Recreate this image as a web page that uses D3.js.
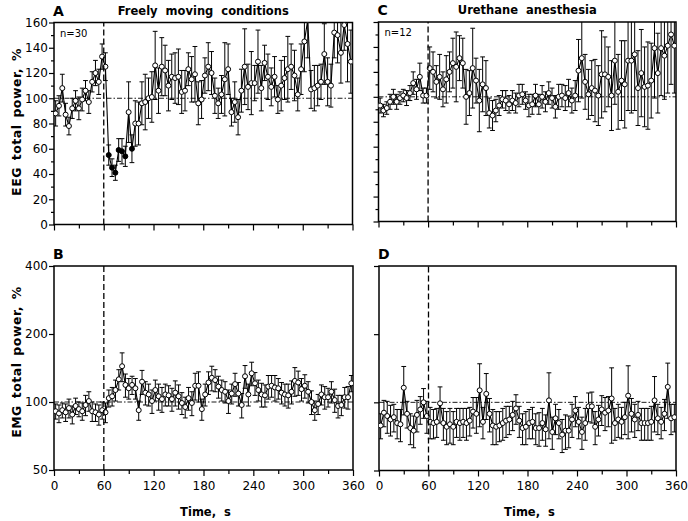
<!DOCTYPE html>
<html><head><meta charset="utf-8">
<script src="https://cdn.jsdelivr.net/npm/d3@7"></script>
<style>
body{margin:0;background:#fff}
svg{display:block}
text{font-family:"DejaVu Sans",Arial,sans-serif;fill:#000}
</style>
</head><body>
<svg id="c" width="688" height="521"></svg>
<script>
// ---- data ----
const binStart = 2, binWidth = 4, binCount = 90;   // 4-s bins, centres 2..358 s
const xTicks = [0, 60, 120, 180, 240, 300, 360];
const xMinorTicks = [30, 90, 150, 210, 270, 330];
const eegTicks = [0, 20, 40, 60, 80, 100, 120, 140, 160];
const eegMinorTicks = [10, 30, 50, 70, 90, 110, 130, 150];
const emgTicks = [50, 100, 200, 400];
const stimTime = 60;
const baseline = 100;

// A: EEG, freely moving (n=30)
const eegFreely = [88,94,108,87,78,92,98,92,99,106, 97,113,120,113,133,125,55,45,41,59,
  58,54,89,60,80,80,96,97,100,101, 126,106,125,122,110,117,116,117,105,106,
  123,115,119,96,99,118,125,120,102,96, 103,115,123,89,97,85,106,125,109,112,
  112,129,108,128,117,109,117,99,110,116, 123,125,118,103,123,145,162,107,108,110,
  113,135,113,110,152,150,136,158,143,129];
const eegFreelyErr = [10,8,11,9,7,8,8,9,9,8, 9,8,10,10,10,11,8,7,6,9,
  10,8,24,11,18,17,17,22,16,20, 27,18,23,20,20,18,20,22,17,16,
  13,18,22,17,15,14,19,17,14,12, 15,29,20,11,16,14,17,30,18,25,
  14,25,18,14,18,15,16,11,20,17, 26,18,20,13,20,24,30,15,18,16,
  14,24,19,17,20,22,24,20,30,25];
const freelySignificant = [16,17,18,19,20,21,23];

// C: EEG, urethane anesthesia (n=12)
const eegUrethane = [93,89,91,96,100,96,99,101,99,103, 111,106,116,101,101,123,120,112,116,106,
  114,120,127,124,131,127,100,103,123,113, 97,110,107,87,85,89,93,98,97,94,
  97,95,101,102,97,93,94,101,94,100, 96,103,99,92,100,101,99,103,97,101,
  121,131,112,102,107,105,101,118,118,116, 101,129,104,113,110,129,129,134,107,119,
  108,109,113,139,119,139,133,141,150,141];
const eegUrethaneErr = [6,5,5,6,6,6,5,5,6,6, 9,8,11,6,6,17,16,13,18,14,
  19,16,20,28,18,20,22,18,32,18, 25,22,22,12,12,9,8,7,8,7,
  8,8,9,8,7,9,8,9,8,9, 8,9,8,9,10,9,10,11,10,12,
  25,32,22,20,22,25,24,35,30,24, 28,35,30,32,35,40,42,45,30,35,
  32,35,30,40,32,38,35,38,40,38];

// B: EMG, freely moving
const emgFreely = [91,89,92,90,94,88,96,93,91,97, 101,91,90,88,92,90,104,106,113,126,
  144,119,115,119,115,92,123,110,108,101, 113,106,103,108,107,103,110,106,99,95,
  104,99,118,118,93,108,122,128,125,117, 113,111,101,109,120,109,97,130,108,134,
  121,113,108,107,117,118,116,115,110,108, 107,111,124,122,114,118,111,100,92,98,
  108,105,105,111,102,96,97,105,105,121];
const emgFreelyErr = [7,8,7,8,9,8,8,7,8,10, 10,9,8,9,8,9,9,10,12,13,
  21,14,12,11,12,9,15,13,12,12, 12,14,13,12,11,12,14,13,11,10,
  12,12,16,18,10,12,14,16,14,13, 12,12,12,11,14,13,12,15,12,16,
  14,12,13,12,14,13,15,12,12,12, 13,13,18,15,13,14,12,12,9,10,
  11,12,10,12,12,11,10,11,12,10];

// D: EMG, urethane anesthesia
const emgUrethane = [79,90,87,84,86,81,80,116,89,77, 75,88,93,100,87,82,81,82,99,81,
  78,80,78,82,81,82,81,83,91,89, 113,82,109,89,79,78,79,81,83,84,
  88,94,83,77,78,81,82,77,77,81, 76,102,74,85,81,72,75,75,84,92,
  82,74,81,96,96,78,84,93,90,92, 104,81,84,82,86,107,89,84,88,81,
  81,81,82,102,85,82,89,117,85,86];
const emgUrethaneErr = [10,12,14,13,12,12,13,28,12,12, 12,14,13,15,14,13,12,12,18,13,
  13,14,13,12,13,12,13,12,14,16, 35,13,25,15,14,13,12,13,13,12,
  13,14,13,12,13,12,13,12,13,13, 12,33,12,13,12,12,13,12,14,14,
  13,12,13,14,15,13,13,14,15,14, 38,13,14,13,14,38,15,14,13,13,
  13,13,14,28,13,13,14,32,13,12];

const times = d3.range(binCount).map(i => binStart + i * binWidth);

// ---- drawing ----
const svg = d3.select("#c");
const FONT = "DejaVu Sans, Arial, sans-serif";

function drawPanel(p) {
  const x = d3.scaleLinear().domain([0, 360]).range([p.x0, p.x1]);
  const y = p.log
    ? d3.scaleLog().domain([50, 400]).range([p.y0, p.y1])
    : d3.scaleLinear().domain([0, 160]).range([p.y0, p.y1]);
  const g = svg.append("g");

  // minor x ticks
  g.append("g").attr("transform", `translate(0,${p.y0})`)
    .call(d3.axisBottom(x).tickValues(xMinorTicks).tickSize(4).tickFormat(""))
    .call(s => s.select(".domain").remove());
  // major x ticks
  const xa = g.append("g").attr("transform", `translate(0,${p.y0})`)
    .call(d3.axisBottom(x).tickValues(xTicks).tickSize(6).tickPadding(5).tickSizeOuter(0)
      .tickFormat(p.xLabels ? d => d : ""));
  xa.select(".domain").remove();
  // y ticks
  if (!p.log) {
    g.append("g").attr("transform", `translate(${p.x0},0)`)
      .call(d3.axisLeft(y).tickValues(eegMinorTicks).tickSize(3).tickFormat(""))
      .call(s => s.select(".domain").remove());
  }
  const ya = g.append("g").attr("transform", `translate(${p.x0},0)`)
    .call(d3.axisLeft(y).tickValues(p.log ? emgTicks : eegTicks).tickSize(5).tickPadding(1).tickSizeOuter(0)
      .tickFormat(p.yLabels ? d => d : ""));
  ya.select(".domain").remove();
  g.selectAll(".tick line").attr("stroke", "#000").attr("stroke-width", 1.2);
  g.selectAll(".tick text").attr("font-family", FONT).attr("font-size", 12)
    .attr("fill", "#000");

  // frame
  g.append("rect").attr("x", p.x0).attr("y", p.y1)
    .attr("width", p.x1 - p.x0).attr("height", p.y0 - p.y1)
    .attr("fill", "none").attr("stroke", "#000").attr("stroke-width", 1.5);

  // clip
  const cid = "clip" + p.name;
  svg.append("clipPath").attr("id", cid).append("rect")
    .attr("x", p.x0).attr("y", p.y1).attr("width", p.x1 - p.x0).attr("height", p.y0 - p.y1);
  const pg = g.append("g").attr("clip-path", `url(#${cid})`);

  // reference lines
  pg.append("line").attr("x1", p.x0).attr("x2", p.x1).attr("y1", y(baseline)).attr("y2", y(baseline))
    .attr("stroke", "#000").attr("stroke-width", 0.9).attr("stroke-dasharray", "5,2,1.5,2");
  g.append("line").attr("x1", x(stimTime)).attr("x2", x(stimTime)).attr("y1", p.y0).attr("y2", p.y1)
    .attr("stroke", "#000").attr("stroke-width", 1.3).attr("stroke-dasharray", "6,3");

  const data = times.map((t, i) => ({ t, v: p.values[i], e: p.errors[i], f: (p.filled || []).includes(i) }));

  // error bars
  const eb = pg.append("g").attr("stroke", "#000").attr("stroke-width", 1);
  data.forEach(d => {
    const lo = Math.max(d.v - d.e, 1), hi = d.v + d.e;
    const cx = x(d.t);
    eb.append("line").attr("x1", cx).attr("x2", cx).attr("y1", y(lo)).attr("y2", y(hi));
    eb.append("line").attr("x1", cx - 2.4).attr("x2", cx + 2.4).attr("y1", y(lo)).attr("y2", y(lo));
    eb.append("line").attr("x1", cx - 2.4).attr("x2", cx + 2.4).attr("y1", y(hi)).attr("y2", y(hi));
  });

  // connecting line
  pg.append("path").datum(data)
    .attr("d", d3.line().x(d => x(d.t)).y(d => y(d.v)))
    .attr("fill", "none").attr("stroke", "#000").attr("stroke-width", 1.1);

  // markers
  pg.selectAll("circle").data(data).enter().append("circle")
    .attr("cx", d => x(d.t)).attr("cy", d => y(d.v)).attr("r", 2.5)
    .attr("fill", d => d.f ? "#000" : "#fff").attr("stroke", "#000").attr("stroke-width", 1);

  // texts
  svg.append("text").attr("x", p.x0 - 1).attr("y", p.y1 - 7)
    .attr("font-size", 14).attr("font-weight", "bold").text(p.letter);
  if (p.title) {
    svg.append("text").attr("x", (p.x0 + p.x1) / 2).attr("y", p.y1 - 8)
      .attr("text-anchor", "middle").attr("font-size", 11.5).attr("font-weight", "bold")
      .attr("word-spacing", 4).text(p.title);
  }
  if (p.n) {
    svg.append("text").attr("x", p.x0 + 6).attr("y", p.y1 + 14)
      .attr("font-size", 10).text(p.n);
  }
  if (p.xLabels) {
    svg.append("text").attr("x", (p.x0 + p.x1) / 2 + 2).attr("y", 516)
      .attr("text-anchor", "middle").attr("font-size", 11.5).attr("font-weight", "bold")
      .attr("word-spacing", 4).text("Time, s");
  }
  if (p.yTitle) {
    svg.append("text").attr("transform", `translate(21,${p.yTitleY}) rotate(-90)`)
      .attr("text-anchor", "middle").attr("font-size", 12.5).attr("font-weight", "bold")
      .attr("letter-spacing", 0.5).attr("word-spacing", 2).text(p.yTitle);
  }
}

drawPanel({ name: "A", letter: "A", title: "Freely moving conditions", n: "n=30",
  x0: 54, x1: 352.5, y0: 224.5, y1: 22.5, log: false, xLabels: false, yLabels: true,
  yTitle: "EEG total power, %", yTitleY: 122,
  values: eegFreely, errors: eegFreelyErr, filled: freelySignificant });
drawPanel({ name: "C", letter: "C", title: "Urethane anesthesia", n: "n=12",
  x0: 378.5, x1: 676, y0: 221.5, y1: 22, log: false, xLabels: false, yLabels: false,
  values: eegUrethane, errors: eegUrethaneErr });
drawPanel({ name: "B", letter: "B",
  x0: 54, x1: 353, y0: 470, y1: 266, log: true, xLabels: true, yLabels: true,
  yTitle: "EMG total power, %", yTitleY: 362,
  values: emgFreely, errors: emgFreelyErr });
drawPanel({ name: "D", letter: "D",
  x0: 379, x1: 676, y0: 470.5, y1: 266, log: true, xLabels: true, yLabels: false,
  values: emgUrethane, errors: emgUrethaneErr });
</script>
</body></html>
